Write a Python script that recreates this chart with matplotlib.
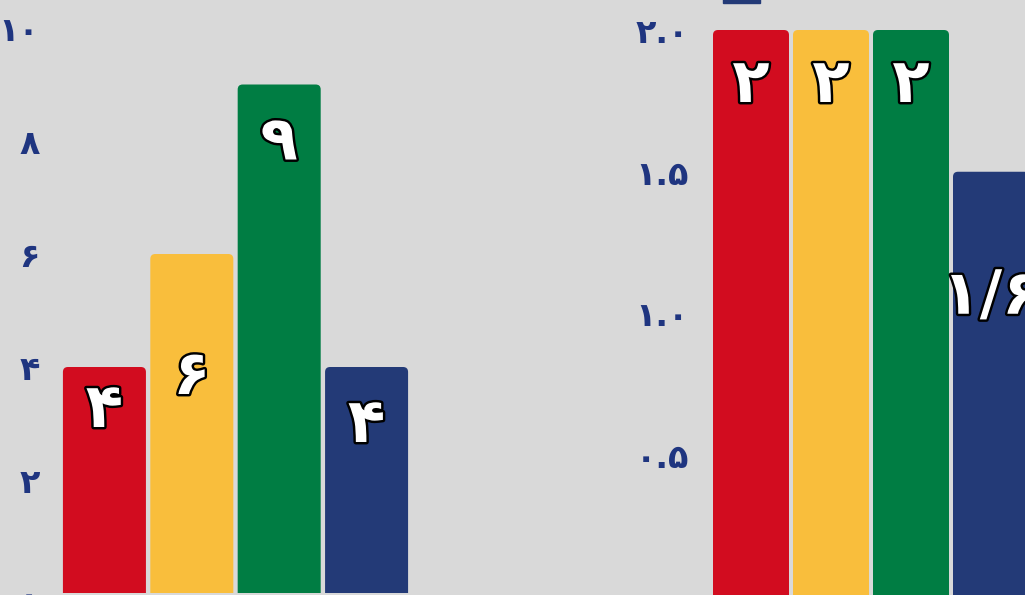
import matplotlib.pyplot as plt
import matplotlib.patheffects as pe
from matplotlib.patches import Patch, FancyBboxPatch

# left panel
left_vals = [4, 6, 9, 4]
left_text = ['۴', '۶', '۹', '۴']
left_ticks = [0, 2, 4, 6, 8, 10]
left_ticklabels = ['۰', '۲', '۴', '۶', '۸', '۱۰']

# right panel
right_vals = [2, 2, 2, 1.5]
right_text = ['۲', '۲', '۲', '۱/۶']
right_ticks = [0, 0.5, 1.0, 1.5, 2.0]
right_ticklabels = ['۰.۰', '۰.۵', '۱.۰', '۱.۵', '۲.۰']

colors = ['#d20c1f', '#f9be3c', '#007d43', '#233a77']
bg = '#d9d9d9'
tick_color = '#1f3580'

W, H = 1025, 595
fig = plt.figure(figsize=(W / 100, H / 100), dpi=100, facecolor=bg)

def px_axes(x0, x1, ytop, ybot):
    return fig.add_axes([x0 / W, 1 - ybot / H, (x1 - x0) / W, (ybot - ytop) / H])

ax1 = px_axes(52, 419, 28, 593)
ax2 = px_axes(703, 1039, 30, 597)

outline = [pe.withStroke(linewidth=3.5, foreground='black')]

def draw(ax, vals, texts, ticks, ticklabels, ymax, drops, pad):
    ax.set_facecolor(bg)
    x = range(len(vals))
    bars = ax.bar(x, vals, width=0.95, color=colors, edgecolor='none')
    ax.set_xlim(-0.6, len(vals) - 0.4)
    ax.set_ylim(0, ymax)
    # rounded top corners (~5px)
    bb = ax.get_position()
    px_x = bb.width * W / (ax.get_xlim()[1] - ax.get_xlim()[0])
    px_y = bb.height * H / ymax
    r = 5 / px_x
    ext = 10 / px_y
    for b in bars:
        b.set_visible(False)
        ax.add_patch(FancyBboxPatch((b.get_x(), -ext), b.get_width(), b.get_height() + ext,
                                    boxstyle='round,pad=0,rounding_size=%f' % r,
                                    mutation_aspect=px_x / px_y,
                                    fc=b.get_facecolor(), ec='none'))
    ax.set_yticks(ticks)
    ax.set_yticklabels(ticklabels, fontsize=24, fontweight='bold', color=tick_color,
                       family='DejaVu Sans')
    ax.tick_params(axis='y', length=0, pad=pad)
    ax.set_xticks([])
    for s in ax.spines.values():
        s.set_visible(False)
    for b, t, d in zip(bars, texts, drops):
        ax.annotate(t, (b.get_x() + b.get_width() / 2, b.get_height()),
                    xytext=(0, -d), textcoords='offset pixels',
                    ha='center', va='top', fontsize=44, fontweight='bold',
                    color='white', family='DejaVu Sans', path_effects=outline)

draw(ax1, left_vals, left_text, left_ticks, left_ticklabels, 10, [14, 94, 29, 29], 9)
draw(ax2, right_vals, right_text, right_ticks, right_ticklabels, 2.0, [26, 26, 26, 96], 10)

# legend at the top, mostly cut off
fig.legend(handles=[Patch(color=colors[3])], labels=[''], loc='center left',
           bbox_to_anchor=(716 / W, 1 + 4 / H), frameon=False, borderpad=0,
           handlelength=2.7, handleheight=1.2, handletextpad=0)

fig.savefig('out.png', dpi=100, facecolor=bg)
